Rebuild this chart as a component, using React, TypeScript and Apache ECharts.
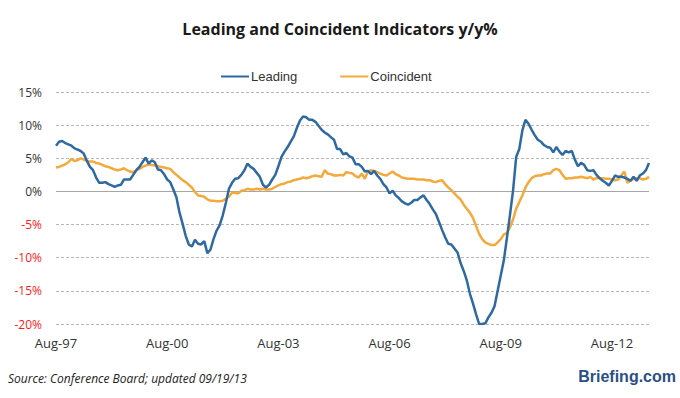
import React, { useEffect, useRef } from "react";
import * as echarts from "echarts";

const leading: number[] = [
  6.9, 7.5, 7.6, 7.3, 7.1, 6.9, 6.5, 6.3, 6.1, 5.7,
  4.6, 3.7, 3.2, 2.1, 1.3, 1.3, 1.4, 1.1, 0.9, 0.7,
  0.9, 1.0, 1.8, 1.8, 1.8, 2.5, 3.2, 3.7, 4.4, 5.1,
  4.2, 4.7, 4.4, 3.3, 3.2, 2.6, 1.8, 1.4, 0.3, -0.9,
  -3.2, -4.9, -6.7, -8.0, -8.3, -7.3, -7.9, -8.0, -7.5, -9.3,
  -8.8, -7.2, -5.9, -5.1, -3.6, -1.7, 0.4, 1.3, 1.9, 2.0,
  2.5, 3.2, 4.2, 3.7, 3.4, 2.8, 2.2, 1.0, 0.6, 1.0,
  1.8, 2.5, 3.8, 5.2, 6.0, 6.7, 7.5, 8.3, 9.6, 10.7,
  11.3, 11.2, 10.8, 10.8, 10.5, 9.9, 9.3, 8.9, 8.6, 8.2,
  7.8, 6.4, 6.4, 5.6, 5.8, 5.3, 5.1, 4.1, 4.1, 3.7,
  3.0, 3.1, 2.6, 3.1, 2.4, 1.9, 1.1, 0.6, -0.3, 0.1,
  -0.6, -1.0, -1.5, -1.8, -2.0, -1.7, -1.3, -1.3, -0.9, -0.6,
  -1.3, -1.9, -2.7, -3.4, -4.6, -5.8, -6.9, -7.9, -8.0, -8.6,
  -9.2, -10.8, -12.0, -13.4, -15.4, -16.9, -18.5, -20.0, -20.0, -19.9,
  -19.0, -18.3, -17.3, -15.0, -12.7, -10.4, -7.0, -3.5, 0.2, 5.2,
  6.4, 9.2, 10.8, 10.2, 9.3, 8.5, 7.8, 7.5, 7.0, 6.7,
  6.6, 5.9, 6.7, 6.0, 5.5, 6.1, 5.9, 6.1, 4.8, 3.8,
  4.3, 4.0, 3.2, 3.1, 3.2, 2.5, 2.0, 1.6, 1.3, 0.9,
  1.6, 2.4, 2.2, 2.2, 2.1, 1.9, 1.6, 2.2, 1.6, 2.4,
  2.7, 3.2, 4.3,
];

const coincident: number[] = [
  3.6, 3.7, 3.9, 4.1, 4.4, 4.9, 4.6, 4.7, 5.0, 4.8,
  4.6, 4.5, 4.5, 4.3, 4.2, 4.0, 3.8, 3.7, 3.5, 3.3,
  3.2, 3.3, 3.5, 3.2, 3.0, 2.9, 3.2, 3.4, 3.7, 3.9,
  4.1, 4.0, 3.9, 3.8, 3.7, 3.6, 3.5, 3.4, 2.9, 2.5,
  2.1, 1.7, 1.4, 1.0, 0.6, -0.1, -0.6, -0.7, -0.8, -1.2,
  -1.4, -1.4, -1.5, -1.5, -1.4, -1.1, -0.8, -0.2, -0.2, -0.3,
  0.1, 0.2, 0.4, 0.3, 0.3, 0.4, 0.3, 0.4, 0.3, 0.3,
  0.4, 0.7, 0.9, 1.1, 1.2, 1.4, 1.5, 1.7, 1.8, 1.9,
  2.1, 2.0, 2.1, 2.3, 2.4, 2.3, 2.2, 3.2, 2.7, 2.6,
  2.4, 2.4, 2.5, 2.4, 2.9, 2.8, 2.7, 2.3, 2.1, 2.7,
  1.9, 3.0, 3.2, 3.1, 2.9, 2.7, 2.5, 2.4, 2.7, 3.0,
  2.6, 2.4, 2.1, 2.0, 1.9, 1.9, 1.9, 1.8, 1.8, 1.8,
  1.7, 1.7, 1.5, 1.4, 1.6, 1.7, 1.1, 0.6, 0.2, -0.3,
  -0.8, -1.2, -2.0, -2.6, -3.2, -4.0, -5.2, -6.4, -7.2, -7.7,
  -7.9, -8.1, -8.1, -7.7, -7.2, -6.5, -6.3, -5.4, -4.2, -2.6,
  -1.6, -0.6, 0.6, 1.4, 2.0, 2.3, 2.4, 2.4, 2.6, 2.7,
  2.7, 3.2, 3.4, 3.2, 2.5, 1.9, 2.0, 2.0, 2.1, 2.1,
  2.2, 2.1, 2.0, 2.2, 1.8, 2.0, 2.0, 2.0, 1.9, 1.9,
  1.8, 1.7, 1.8, 2.4, 3.0, 1.3, 1.6, 1.9, 2.0, 2.0,
  1.8, 1.9, 2.2,
];

const monthNames = ["Jan", "Feb", "Mar", "Apr", "May", "Jun", "Jul", "Aug", "Sep", "Oct", "Nov", "Dec"];
const startYear = 1997;
const startMonth = 7; // Aug
const tickLabels = ["Aug-97", "Aug-00", "Aug-03", "Aug-06", "Aug-09", "Aug-12"];
const yTicks = [-20, -15, -10, -5, 0, 5, 10, 15];

const categories: string[] = leading.map((_, i) => {
  const m = (startMonth + i) % 12;
  const y = startYear + Math.floor((startMonth + i) / 12);
  return `${monthNames[m]}-${String(y % 100).padStart(2, "0")}`;
});

export default function App() {
  const ref = useRef<HTMLDivElement>(null);
  useEffect(() => {
    if (!ref.current) return;
    const chart = echarts.init(ref.current, null, { renderer: "svg" });
    chart.setOption({
      animation: false,
      backgroundColor: "#ffffff",
      title: {
        text: "Leading and Coincident Indicators y/y%",
        left: "center",
        top: 16,
        textStyle: { fontFamily: "Open Sans", fontWeight: "bold", fontSize: 16, color: "#1a1a1a" },
      },
      legend: {
        top: 65,
        left: 216,
        itemWidth: 28,
        itemHeight: 2,
        itemGap: 43,
        icon: "rect",
        textStyle: { fontFamily: "Liberation Sans", fontSize: 13, color: "#333", padding: [0, 0, 0, -3] },
        data: ["Leading", "Coincident"],
      },
      grid: { left: 56, right: 31, top: 92, bottom: 74, containLabel: false },
      xAxis: {
        type: "category",
        data: categories,
        boundaryGap: false,
        axisLine: { show: false },
        axisTick: { show: false },
        axisLabel: {
          interval: (idx: number) => idx % 36 === 0,
          formatter: (v: string) => (tickLabels.includes(v) ? v : ""),
          fontFamily: "Open Sans",
          fontSize: 13,
          color: "#333",
          margin: 12,
        },
        splitLine: { show: false },
      },
      yAxis: {
        type: "value",
        min: yTicks[0],
        max: yTicks[yTicks.length - 1],
        interval: 5,
        axisLine: { show: false },
        axisTick: { show: false },
        axisLabel: {
          formatter: (v: number) => `${v}%`,
          color: (v: any) => (Number(v) < 0 ? "#ff1a1a" : "#333333"),
          fontFamily: "Open Sans",
          fontSize: 12,
          margin: 14,
        },
        splitLine: { lineStyle: { type: [3, 2], color: "#b8b8b8", width: 1 } },
      },
      series: [
        {
          name: "Leading",
          type: "line",
          data: leading,
          symbol: "none",
          lineStyle: { color: "#2e6aa1", width: 2.5 },
          itemStyle: { color: "#2e6aa1" },
          z: 3,
          markLine: {
            silent: true,
            symbol: "none",
            label: { show: false },
            lineStyle: { color: "#a6a6a6", type: "solid", width: 1 },
            data: [{ yAxis: 0 }],
            z: 1,
          },
        },
        {
          name: "Coincident",
          type: "line",
          data: coincident,
          symbol: "none",
          lineStyle: { color: "#f4a93c", width: 2.5 },
          itemStyle: { color: "#f4a93c" },
          z: 2,
        },
      ],
      graphic: [
        {
          type: "text",
          left: 8,
          top: 372,
          style: {
            text: "Source: Conference Board; updated 09/19/13",
            fontFamily: "Open Sans",
            fontStyle: "italic",
            fontSize: 12,
            fill: "#222",
          },
        },
        {
          type: "text",
          right: 4,
          top: 368,
          style: {
            text: "Briefing.com",
            fontFamily: "Liberation Sans",
            fontWeight: "bold",
            fontSize: 16,
            fill: "#2b4f84",
          },
        },
      ],
    });
    return () => chart.dispose();
  }, []);
  return <div ref={ref} style={{ position: "fixed", left: 0, top: 0, width: 680, height: 398 }} />;
}
